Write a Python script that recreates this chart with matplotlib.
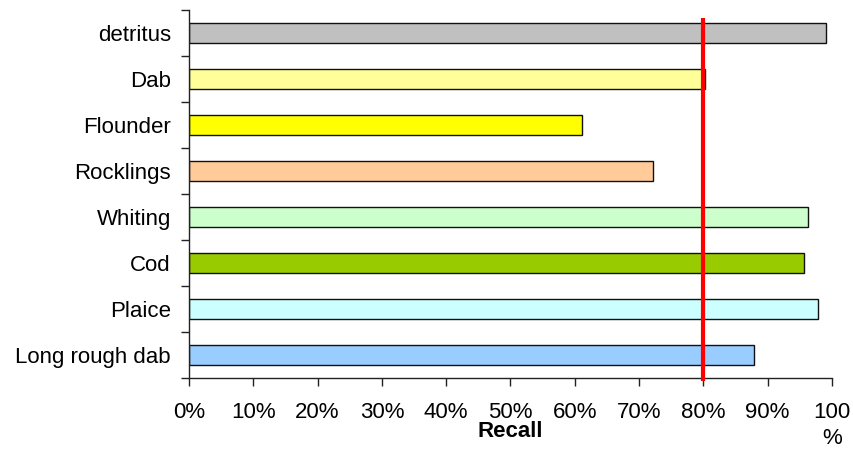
import matplotlib
matplotlib.use("Agg")
import matplotlib.pyplot as plt
import matplotlib.transforms as mtransforms
import numpy as np

plt.rcParams['font.family'] = ['Liberation Sans', 'DejaVu Sans']

# Species, listed top to bottom
categories = ["detritus", "Dab", "Flounder", "Rocklings", "Whiting", "Cod", "Plaice", "Long rough dab"]
recall = [99.1, 80.3, 61.2, 72.2, 96.3, 95.7, 97.8, 87.9]
colors = ["#C0C0C0", "#FFFF99", "#FFFF00", "#FFCC99", "#CCFFCC", "#99CC00", "#CCFFFF", "#99CCFF"]
x_ticks = [0, 10, 20, 30, 40, 50, 60, 70, 80, 90, 100]
x_tick_labels = ["0%", "10%", "20%", "30%", "40%", "50%", "60%", "70%", "80%", "90%", "100\n%"]
threshold = 80

fig = plt.figure(figsize=(8.54, 4.51), dpi=100)
ax = fig.add_axes([0.2213, 0.1625, 0.9742 - 0.2213, 0.9778 - 0.1625])

y = np.arange(len(categories))
ax.barh(y, recall, height=0.435, color=colors, edgecolor="#111111", linewidth=1.0, zorder=2)

ax.set_xlim(0, 100)
ax.set_ylim(len(categories) - 0.5, -0.5)

# Category boundaries carry the tick marks, labels sit at bar centres
ax.set_yticks(np.arange(-0.5, len(categories), 1.0))
ax.set_yticklabels([])
ax.set_yticks(y, minor=True)
ax.set_yticklabels(categories, minor=True, fontsize=16)
ax.tick_params(axis="y", which="major", direction="out", length=6, width=1, color="#222222")
ax.tick_params(axis="y", which="minor", length=0, pad=13)

ax.set_xticks(x_ticks)
ax.set_xticklabels(x_tick_labels, fontsize=16, linespacing=1.3)
ax.tick_params(axis="x", direction="out", length=5.5, width=1, color="#222222", pad=12)

ax.set_xlabel("Recall", fontsize=16, fontweight="bold")
ax.xaxis.set_label_coords(0.5, -0.118)

for side in ("top", "right"):
    ax.spines[side].set_visible(False)
for side in ("left", "bottom"):
    ax.spines[side].set_color("#222222")
    ax.spines[side].set_linewidth(1.0)

# Target recall line
trans = mtransforms.blended_transform_factory(ax.transData, ax.transAxes)
ax.plot([threshold, threshold], [-0.008, 0.977], color="#FF0000", linewidth=3.0,
        solid_capstyle="butt", transform=trans, clip_on=False, zorder=3)

fig.savefig("out.png", dpi=100)
